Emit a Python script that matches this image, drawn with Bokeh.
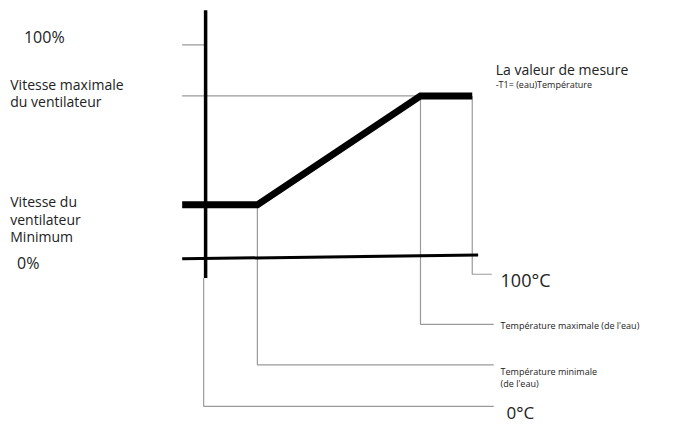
from bokeh.plotting import figure
from bokeh.models import Range1d
from bokeh.embed import file_html
from bokeh.resources import INLINE
from bokeh.core.properties import value

# Diagram data (in picture coordinates of the diagram frame)
curve_x = [186, 263, 430, 483]
curve_y = [212, 212, 99, 99]

yaxis_x = [210, 210]
yaxis_y = [10, 288]
xaxis_x = [186, 489]
xaxis_y = [268, 264]

# thin grey guide lines
guides = [
    ([186, 210], [46, 46]),              # 100 % tick
    ([186, 430], [99, 99]),              # max speed
    ([483, 483, 503], [99, 284, 284]),   # 100 degC
    ([430, 430, 505], [99, 336, 336]),   # Tmax
    ([263, 263, 505], [212, 378, 378]),  # Tmin
    ([208, 208, 505], [288, 421, 421]),  # 0 degC
]

left_labels = ["100%", "Vitesse maximale", "du ventilateur", "Vitesse du", "ventilateur", "Minimum", "0%"]
left_x = [24, 10, 10, 10, 10, 10, 17]
left_y = [38, 87, 105, 209, 227, 245, 272]
left_size = ["16px", "14px", "14px", "14px", "14px", "14px", "16px"]

right_labels = ["La valeur de mesure", "-T1= (eau)Température", "100°C", "Température maximale (de l'eau)",
                "Température minimale", "(de l'eau)", "0°C"]
right_x = [507, 507, 512, 512, 512, 512, 518]
right_y = [72, 87, 290, 337, 385, 397, 427]
right_size = ["14px", "9px", "18px", "9px", "9px", "9px", "17px"]

p = figure(width=671, height=427, output_backend="svg", toolbar_location=None,
           x_range=Range1d(0, 687), y_range=Range1d(443, 0),
           min_border=0, min_border_left=0, min_border_right=0,
           min_border_top=0, min_border_bottom=0)
p.axis.visible = False
p.grid.visible = False
p.outline_line_color = None
p.background_fill_color = "white"
p.border_fill_color = "white"

for gx, gy in guides:
    p.line(gx, gy, line_color="#9a9a9a", line_width=1.2)

p.line(yaxis_x, yaxis_y, line_color="black", line_width=3.5)
p.line(xaxis_x, xaxis_y, line_color="black", line_width=3)
p.line(curve_x, curve_y, line_color="black", line_width=7, line_join="miter")

font = value("Open Sans")
for lbl, x, y, s in zip(left_labels, left_x, left_y, left_size):
    p.text([x], [y], text=[lbl], text_font=font, text_font_size=s,
           text_baseline="middle", text_align="left", text_color="#222222")
for lbl, x, y, s in zip(right_labels, right_x, right_y, right_size):
    p.text([x], [y], text=[lbl], text_font=font, text_font_size=s,
           text_baseline="middle", text_align="left", text_color="#222222")

open("out.html", "w").write(file_html(p, INLINE))
